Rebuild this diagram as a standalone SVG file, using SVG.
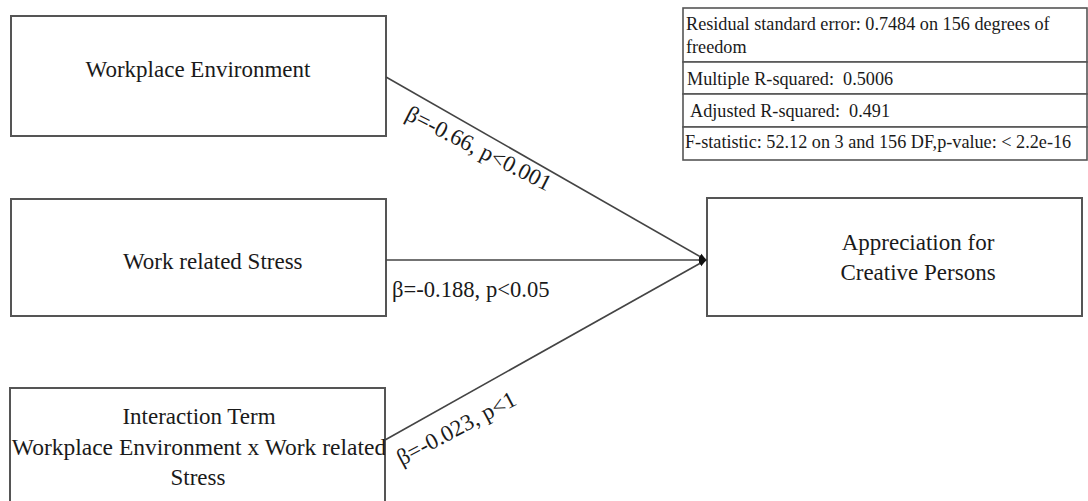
<svg xmlns="http://www.w3.org/2000/svg" width="1088" height="501" viewBox="0 0 1088 501">
<style>
.box{fill:#fff;stroke:#555;stroke-width:2}
.t{font-family:"Liberation Serif","Times New Roman",serif;font-size:23px;fill:#1a1a1a}
.s{font-family:"Liberation Serif","Times New Roman",serif;font-size:18.2px;fill:#1a1a1a}
.c{stroke:#444;stroke-width:1.6;fill:none}
.cell{fill:#fff;stroke:#555;stroke-width:1.6}
</style>
<defs>
<marker id="arr" viewBox="0 0 10 10" refX="9" refY="5" markerWidth="8" markerHeight="8" markerUnits="userSpaceOnUse" orient="auto">
<path d="M0,1 L10,5 L0,9 z" fill="#111"/>
</marker>
<clipPath id="clip3"><rect x="11" y="388" width="374" height="120"/></clipPath>
</defs>
<rect width="1088" height="501" fill="#fff"/>
<g id="workplace-environment">
<rect class="box" x="11" y="16" width="375" height="120"/>
<text class="t" x="198" y="77" text-anchor="middle">Workplace Environment</text>
</g>
<g id="work-related-stress">
<rect class="box" x="11" y="199" width="375" height="117"/>
<text class="t" x="123" y="269">Work related Stress</text>
</g>
<g id="interaction-term">
<rect class="box" x="10" y="388" width="375" height="120"/>
<g clip-path="url(#clip3)">
<text class="t" x="199" y="424" text-anchor="middle">Interaction Term</text>
<text class="t" x="199" y="455" text-anchor="middle" style="font-size:23.5px">Workplace Environment x Work related</text>
<text class="t" x="198" y="485" text-anchor="middle">Stress</text>
</g>
</g>
<g id="appreciation">
<rect class="box" x="707" y="198" width="375" height="118"/>
<text class="t" x="918" y="250" text-anchor="middle">Appreciation for</text>
<text class="t" x="918" y="280" text-anchor="middle">Creative Persons</text>
</g>
<g id="model-stats">
<rect class="cell" x="683" y="8" width="404" height="54"/>
<rect class="cell" x="683" y="62" width="404" height="32"/>
<rect class="cell" x="683" y="94" width="404" height="33"/>
<rect class="cell" x="683" y="127" width="404" height="33"/>
<text class="s" x="686" y="30">Residual standard error: 0.7484 on 156 degrees of</text>
<text class="s" x="686" y="53">freedom</text>
<text class="s" x="687" y="85">Multiple R-squared:&#160; 0.5006</text>
<text class="s" x="690" y="117">Adjusted R-squared:&#160; 0.491</text>
<text class="s" x="685" y="148">F-statistic: 52.12 on 3 and 156 DF,p-value: &lt; 2.2e-16</text>
</g>
<g id="connectors">
<line class="c" x1="386" y1="77" x2="706" y2="260" marker-end="url(#arr)"/>
<line class="c" x1="386" y1="260" x2="706" y2="260" marker-end="url(#arr)"/>
<line class="c" x1="385" y1="440" x2="706" y2="260" marker-end="url(#arr)"/>
<text class="t" transform="translate(479,148) rotate(27)" x="0" y="8" text-anchor="middle">β=-0.66, p&lt;0.001</text>
<text class="t" x="392" y="297" style="font-size:22.6px">β=-0.188, p&lt;0.05</text>
<text class="t" transform="translate(456,428) rotate(-28)" x="0" y="8" text-anchor="middle">β=-0.023, p&lt;1</text>
</g>
</svg>
